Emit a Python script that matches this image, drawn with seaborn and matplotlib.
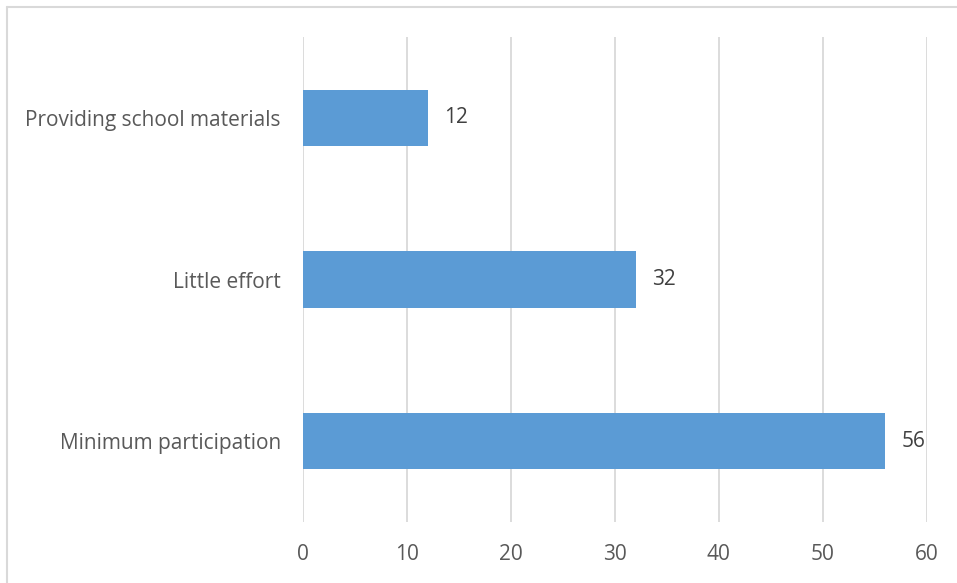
import matplotlib
matplotlib.use("Agg")
import matplotlib.pyplot as plt
import seaborn as sns
import pandas as pd
from matplotlib.lines import Line2D

categories = ["Providing school materials", "Little effort", "Minimum participation"]
values = [12, 32, 56]
x_ticks = [0, 10, 20, 30, 40, 50, 60]

df = pd.DataFrame({"category": categories, "value": values})

sns.set_theme(style="white")
plt.rcParams["font.family"] = ["Open Sans", "DejaVu Sans"]

W, H = 957, 583
fig = plt.figure(figsize=(W / 100, H / 100), dpi=100)
ax = fig.add_axes([303 / W, 1 - 522 / H, (926.7 - 303) / W, (522 - 37) / H])

sns.barplot(data=df, x="value", y="category", orient="h", color="#5B9BD5",
            saturation=1, width=0.35, ax=ax, edgecolor="none")

ax.set_xlim(0, 60)
ax.set_xticks(x_ticks)
ax.set_xticklabels([str(t) for t in x_ticks])
ax.grid(axis="x", color="#D9D9D9", linewidth=1.3)
ax.set_axisbelow(True)
for s in ax.spines.values():
    s.set_visible(False)
ax.set_xlabel("")
ax.set_ylabel("")
ax.tick_params(axis="x", length=0, pad=16, labelsize=15, labelcolor="#595959")
ax.tick_params(axis="y", length=0, pad=16, labelsize=15, labelcolor="#595959")

for i, v in enumerate(values):
    ax.text(v + 1.6, i, str(v), va="center", ha="left", fontsize=15, color="#404040")

# Frame edges on the top and left of the chart area
fig.add_artist(Line2D([7 / W, 7 / W], [0, 1 - 7 / H], transform=fig.transFigure,
                      color="#D9D9D9", linewidth=1.5))
fig.add_artist(Line2D([7 / W, 1], [1 - 7 / H, 1 - 7 / H], transform=fig.transFigure,
                      color="#D9D9D9", linewidth=1.5))

fig.savefig("out.png", dpi=100)
